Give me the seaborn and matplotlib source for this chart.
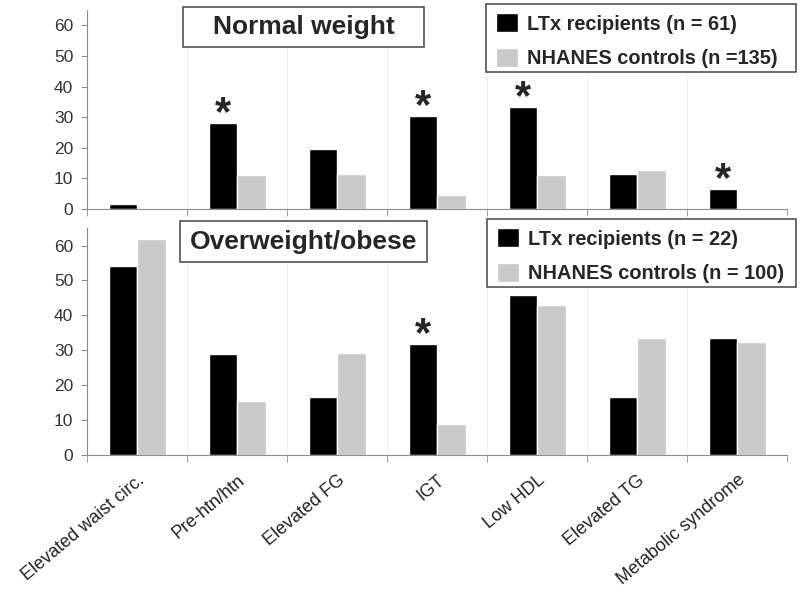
import matplotlib
matplotlib.use("Agg")
import matplotlib.pyplot as plt
from matplotlib.patches import Rectangle
import seaborn as sns
import pandas as pd
import numpy as np

# categories and values (%)
categories = ["Elevated waist circ.", "Pre-htn/htn", "Elevated FG", "IGT",
              "Low HDL", "Elevated TG", "Metabolic syndrome"]

normal_ltx = [1.7, 28.0, 19.6, 30.3, 33.3, 11.5, 6.6]
normal_nhanes = [0.0, 11.0, 11.5, 4.5, 11.0, 12.8, 0.5]
normal_stars = [False, True, False, True, True, False, True]

obese_ltx = [54.0, 29.0, 16.5, 31.7, 45.9, 16.5, 33.4]
obese_nhanes = [62.0, 15.5, 29.3, 9.0, 43.0, 33.4, 32.5]
obese_stars = [False, False, False, True, False, False, False]

top_groups = ["LTx recipients (n = 61)", "NHANES controls (n =135)"]
bottom_groups = ["LTx recipients (n = 22)", "NHANES controls (n = 100)"]

colors = ["#000000", "#c9c9c9"]

sns.set_style("white")
plt.rcParams['font.family'] = ['Liberation Sans', 'DejaVu Sans']

W, H = 800, 594
fig = plt.figure(figsize=(8, 5.94), dpi=100)
ax1 = fig.add_axes([0.109, 0.648, 0.875, 0.335])
ax2 = fig.add_axes([0.109, 0.234, 0.875, 0.382])


def fig_box(x0, y0, x1, y1):
    # box given in pixel coords (top-left origin)
    fig.patches.append(Rectangle((x0 / W, 1 - y1 / H), (x1 - x0) / W, (y1 - y0) / H,
                                 transform=fig.transFigure, fc="white",
                                 ec="#444444", lw=1.1, zorder=4))


def panel(ax, ltx, nhanes, stars, groups, title, tbox, lbox):
    df = pd.DataFrame({
        "Category": categories * 2,
        "Percent": ltx + nhanes,
        "Group": [groups[0]] * 7 + [groups[1]] * 7,
    })
    sns.barplot(data=df, x="Category", y="Percent", hue="Group", palette=colors,
                saturation=1, width=0.57, ax=ax, errorbar=None)
    ax.set_ylim(0, 65)
    ax.set_xlim(-0.5, 6.5)
    ax.set_yticks(range(0, 61, 10))
    ax.set_xlabel("")
    ax.set_ylabel("")
    for s in ["top", "right"]:
        ax.spines[s].set_visible(False)
    for s in ["left", "bottom"]:
        ax.spines[s].set_color("#8c8c8c")
    ax.tick_params(axis="y", labelsize=12.5, labelcolor="#333333", length=4,
                   color="#8c8c8c", left=True, pad=6)
    # boundary ticks and faint gridlines
    ax.set_xticks(np.arange(-0.5, 7, 1), minor=True)
    ax.tick_params(axis="x", which="minor", length=5, color="#8c8c8c", bottom=True)
    ax.tick_params(axis="x", which="major", length=0)
    ax.grid(True, axis="x", which="minor", color="#efefef", lw=0.8)
    ax.set_axisbelow(True)
    for i, st in enumerate(stars):
        if st:
            ax.annotate("*", (i - 0.1425, ltx[i]), xytext=(0, -1.5),
                        textcoords="offset points", ha="center", va="baseline",
                        fontsize=30, fontweight="bold")
    ax.legend_.remove()

    # title box
    fig_box(*tbox)
    fig.text((tbox[0] + tbox[2]) / 2 / W, 1 - (tbox[1] + tbox[3]) / 2 / H, title,
             ha="center", va="center", fontsize=19, fontweight="bold", zorder=5)

    # legend box
    fig_box(*lbox)
    handles, labels = ax.get_legend_handles_labels()
    fig.legend(handles, labels, loc="upper left",
               bbox_to_anchor=((lbox[0] + 10) / W, 1 - (lbox[1] + 9) / H),
               prop={"weight": "bold", "size": 14.4}, frameon=False,
               handlelength=1.12, handleheight=1.12, handletextpad=0.42,
               borderpad=0, borderaxespad=0, labelspacing=0.72)


panel(ax1, normal_ltx, normal_nhanes, normal_stars, top_groups, "Normal weight",
      (183, 7, 424, 47), (486, 4, 796, 72))
panel(ax2, obese_ltx, obese_nhanes, obese_stars, bottom_groups, "Overweight/obese",
      (180, 221, 427, 262), (487, 219, 796, 287))
for lg in fig.legends:
    lg.set_zorder(6)

ax1.set_xticklabels([])
ax2.set_xticks(range(7))
ax2.set_xticklabels(categories, rotation=40, ha="right", rotation_mode="anchor",
                    fontsize=13, color="#222222")
ax2.tick_params(axis="x", which="major", pad=12)

fig.savefig("out.png", dpi=100)
